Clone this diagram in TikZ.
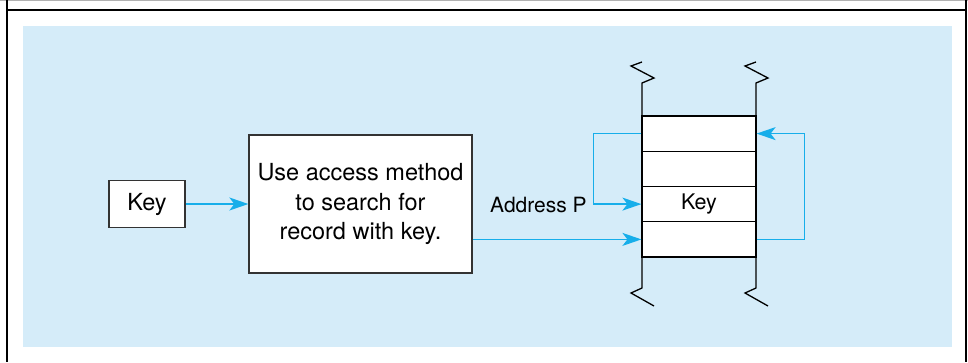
\documentclass[tikz,border=0pt]{standalone}
\usepackage{fontspec}
\setmainfont{TeX Gyre Heros}
\usetikzlibrary{arrows.meta}
\definecolor{bgblue}{HTML}{D5ECF9}
\definecolor{arrcyan}{HTML}{17AEEA}
\definecolor{boxline}{HTML}{333333}
\tikzset{
  boxnode/.style={draw=boxline, line width=1.3pt, fill=white, inner sep=0pt, align=center},
  cellnode/.style={draw=black, line width=1.2pt, fill=white, minimum width=114pt, minimum height=35.25pt, inner sep=0pt, font=\fontsize{21.5}{25}\selectfont},
  arr/.style={draw=arrcyan, line width=1.5pt, -{Stealth[length=19pt,width=13pt,inset=5pt]}},
  wall/.style={draw=black, line width=1.3pt, line join=miter},
}
\begin{document}
\begin{tikzpicture}[x=1pt,y=-1pt]
\useasboundingbox (0,0) rectangle (968,362);
% frame
\draw[gray!60, line width=1pt] (0,0.5) -- (968,0.5);
\draw[black, line width=2pt] (7,10) -- (966,10);
\draw[black, line width=2pt] (7,0) -- (7,362);
\draw[black, line width=2pt] (966,0) -- (966,362);
\fill[bgblue] (23,26) rectangle (952,347);
% stack walls
\draw[wall] (642,62) -- (631,66) -- (654,78) -- (642,83) -- (642,288) -- (631,293) -- (654,306);
\draw[wall] (756,62) -- (745,66) -- (768,78) -- (756,83) -- (756,288) -- (745,293) -- (768,306);
% cells
\node[cellnode] (cell1) at (699,133.6) {};
\node[cellnode] (cell2) at (699,168.9) {};
\node[cellnode] (cell3) at (699,204.1) {Key};
\node[cellnode] (cell4) at (699,239.4) {};
% nodes
\node[boxnode, minimum width=76pt, minimum height=47pt, font=\fontsize{23.5}{27}\selectfont] (key) at (147,204) {Key};
\node[boxnode, minimum width=223pt, minimum height=138pt, font=\fontsize{23.5}{29.5}\selectfont] (proc) at (360.5,204) {Use access method\\to search for\\record with key.};
\node[anchor=base west, inner sep=0pt, font=\fontsize{21}{24}\selectfont] (addr) at (490,212) {Address P};
% connectors
\draw[arr] (key.east) -- (proc.west);
\draw[arr] (proc.east |- cell4.west) -- (cell4.west);
\draw[arr] (cell1.west) -- ++(-48,0) |- (cell3.west);
\draw[arr] (cell4.east) -- ++(48,0) |- (cell1.east);
\end{tikzpicture}
\end{document}
